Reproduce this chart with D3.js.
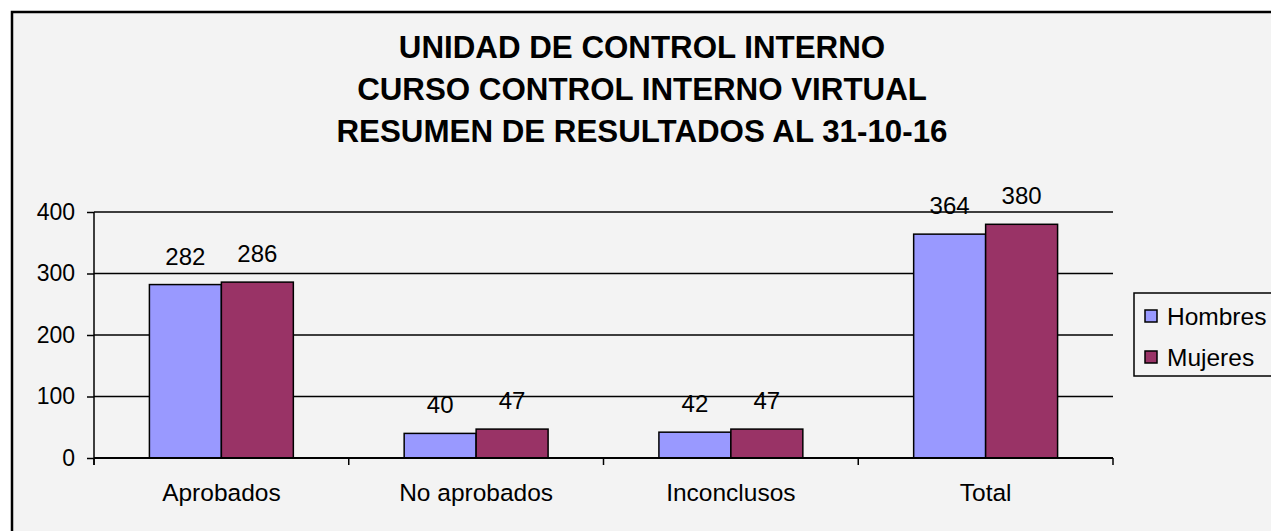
<!DOCTYPE html>
<html>
<head>
<meta charset="utf-8">
<script src="https://cdn.jsdelivr.net/npm/d3@7"></script>
<style>
  body { margin: 0; background: #fff; }
  svg { display: block; font-family: "Liberation Sans", Arial, sans-serif; }
</style>
</head>
<body>
<script>
// datos
const categorias = ["Aprobados", "No aprobados", "Inconclusos", "Total"];
const hombres = [282, 40, 42, 364];
const mujeres = [286, 47, 47, 380];
const series = ["Hombres", "Mujeres"];
const colores = ["#9999ff", "#993366"];
const yTicks = [0, 100, 200, 300, 400];
const titulo = ["UNIDAD DE CONTROL INTERNO", "CURSO CONTROL INTERNO VIRTUAL", "RESUMEN DE RESULTADOS AL 31-10-16"];

const width = 1271, height = 531;
const margin = { top: 212, right: 158, bottom: 73, left: 94 };
const w = width - margin.left - margin.right;
const h = height - margin.top - margin.bottom;

const svg = d3.select("body").append("svg")
    .attr("width", width)
    .attr("height", height);

// marco del grafico
svg.append("rect")
    .attr("x", 12).attr("y", 12)
    .attr("width", width).attr("height", height)
    .attr("fill", "#f3f3f3")
    .attr("stroke", "#000")
    .attr("stroke-width", 2.5);

// titulo
svg.append("g").selectAll("text")
    .data(titulo)
    .enter().append("text")
    .attr("x", 642)
    .attr("y", (d, i) => 58 + i * 42)
    .attr("text-anchor", "middle")
    .style("font-size", "31.3px")
    .style("font-weight", "bold")
    .text(d => d);

const g = svg.append("g")
    .attr("transform", "translate(" + margin.left + "," + margin.top + ")");

// escalas
const x = d3.scaleBand()
    .domain(categorias)
    .range([0, w]);

const x1 = d3.scaleBand()
    .domain(series)
    .range([0, x.bandwidth()])
    .paddingInner(0)
    .paddingOuter(0.77);

const y = d3.scaleLinear()
    .domain([0, 400])
    .range([h, 0]);

// lineas de cuadricula
g.append("g")
    .selectAll("line")
    .data(yTicks.filter(d => d > 0))
    .enter().append("line")
    .attr("x1", 0).attr("x2", w)
    .attr("y1", d => y(d)).attr("y2", d => y(d))
    .attr("stroke", "#000")
    .attr("stroke-width", 1.5);

// eje Y
const yAxis = g.append("g")
    .call(d3.axisLeft(y).tickValues(yTicks).tickSize(7).tickPadding(12));
yAxis.selectAll("path, line").attr("stroke", "#000").attr("stroke-width", 1.5);
yAxis.select(".domain").attr("d", "M0," + (h + 7) + "V0");
yAxis.selectAll("text").style("font-size", "23px").attr("fill", "#000")
    .style("font-family", "'Liberation Sans', Arial, sans-serif");

// barras
const datos = categorias.map((c, i) => ({ cat: c, vals: [hombres[i], mujeres[i]] }));

const grupos = g.selectAll(".grupo")
    .data(datos)
    .enter().append("g")
    .attr("class", "grupo")
    .attr("transform", d => "translate(" + x(d.cat) + ",0)");

grupos.selectAll("rect")
    .data(d => d.vals.map((v, j) => ({ s: series[j], v: v, j: j })))
    .enter().append("rect")
    .attr("x", d => x1(d.s))
    .attr("y", d => y(d.v))
    .attr("width", x1.bandwidth())
    .attr("height", d => h - y(d.v))
    .attr("fill", d => colores[d.j])
    .attr("stroke", "#000")
    .attr("stroke-width", 1.5);

// etiquetas de valores
grupos.selectAll(".valor")
    .data(d => d.vals.map((v, j) => ({ s: series[j], v: v })))
    .enter().append("text")
    .attr("class", "valor")
    .attr("x", d => x1(d.s) + x1.bandwidth() / 2)
    .attr("y", d => y(d.v) - 20)
    .attr("text-anchor", "middle")
    .style("font-size", "24px")
    .text(d => d.v);

// eje X
const xAxis = g.append("g")
    .attr("transform", "translate(0," + h + ")")
    .call(d3.axisBottom(x).tickSize(0).tickPadding(26));
xAxis.select(".domain").attr("stroke", "#000").attr("stroke-width", 2)
    .attr("d", "M0,0H" + w);
xAxis.selectAll("text").style("font-size", "24.5px").attr("fill", "#000")
    .style("font-family", "'Liberation Sans', Arial, sans-serif");

// marcas entre categorias
g.append("g")
    .selectAll("line")
    .data(categorias.concat(["fin"]))
    .enter().append("line")
    .attr("x1", (d, i) => i * x.bandwidth())
    .attr("x2", (d, i) => i * x.bandwidth())
    .attr("y1", h).attr("y2", h + 7)
    .attr("stroke", "#000")
    .attr("stroke-width", 1.5);

// leyenda
const leg = svg.append("g").attr("transform", "translate(1134,293)");
leg.append("rect")
    .attr("width", 150).attr("height", 83)
    .attr("fill", "#f3f3f3")
    .attr("stroke", "#000")
    .attr("stroke-width", 1.5);
const items = leg.selectAll(".item")
    .data(series)
    .enter().append("g")
    .attr("transform", (d, i) => "translate(0," + (23 + i * 41) + ")");
items.append("rect")
    .attr("x", 11).attr("y", -6)
    .attr("width", 12).attr("height", 12)
    .attr("fill", (d, i) => colores[i])
    .attr("stroke", "#000")
    .attr("stroke-width", 1.5);
items.append("text")
    .attr("x", 33)
    .attr("y", 9)
    .style("font-size", "24.5px")
    .text(d => d);
</script>
</body>
</html>
